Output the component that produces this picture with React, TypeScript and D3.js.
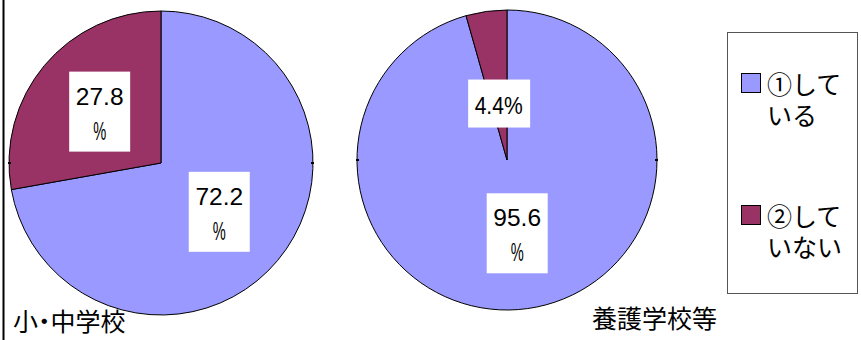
import React from 'react';
import * as d3 from 'd3';

const categories = ['①している', '②していない'];
const legendLines = [['①して', 'いる'], ['②して', 'いない']];
const pieTitles = ['小・中学校', '養護学校等'];
const elementaryValues = [72.2, 27.8];
const specialValues = [95.6, 4.4];
const seriesValues = [elementaryValues, specialValues];
const colors = ['#9999FF', '#993366'];

const W = 861;
const H = 340;

const pies = [
  { cx: 161, cy: 163, r: 152, labelR: [76, 80], split: [true, true], title: { x: 13, y: 331 } },
  { cx: 507, cy: 160, r: 150, labelR: [74, 57], split: [true, false], title: { x: 592, y: 328 } },
];

const color = d3.scaleOrdinal<string, string>().domain(categories).range(colors);

export default function App() {
  const pieGen = d3
    .pie<number>()
    .sort(null)
    .value((d) => d)
    .startAngle(0)
    .endAngle(2 * Math.PI);

  return (
    <svg
      width={W}
      height={H}
      style={{ position: 'absolute', left: 0, top: 0, background: '#fff' }}
    >
      <rect x={0} y={0} width={W} height={H} fill="#fff" />
      <line x1={3.5} x2={3.5} y1={0} y2={H} stroke="#000" strokeWidth={2} />
      {pies.map((p, pi) => {
        const slices = pieGen(seriesValues[pi]);
        const arc = d3.arc<d3.PieArcDatum<number>>().innerRadius(0).outerRadius(p.r);
        return (
          <g key={pi} transform={`translate(${p.cx},${p.cy})`}>
            {slices.map((s, i) => (
              <path
                key={i}
                d={arc(s) || ''}
                fill={color(categories[i])}
                stroke="#000"
                strokeWidth={1}
              />
            ))}
            <line x1={-p.r - 1} x2={-p.r + 2} y1={0} y2={0} stroke="#000" strokeWidth={2} />
            <line x1={p.r - 2} x2={p.r + 1} y1={0} y2={0} stroke="#000" strokeWidth={2} />
            {slices.map((s, i) => {
              const lr = p.labelR[i];
              const la = d3.arc<d3.PieArcDatum<number>>().innerRadius(lr).outerRadius(lr);
              const [x, y] = la.centroid(s);
              const v = seriesValues[pi][i].toFixed(1);
              if (p.split[i]) {
                const bw = 61;
                const bh = 80;
                return (
                  <g key={'l' + i}>
                    <rect x={x - bw / 2} y={y - bh / 2} width={bw} height={bh} fill="#fff" />
                    <text
                      x={x}
                      y={y - 7}
                      textAnchor="middle"
                      fontFamily="'Liberation Sans', Arial, sans-serif"
                      fontSize={24.5}
                      fill="#000"
                    >
                      {v}
                    </text>
                    <text
                      x={x - 6.5}
                      y={y + 28}
                      fontFamily="'Liberation Sans', Arial, sans-serif"
                      fontSize={26}
                      textLength={13}
                      lengthAdjust="spacingAndGlyphs"
                      fill="#000"
                    >
                      %
                    </text>
                  </g>
                );
              }
              const bw = 62;
              const bh = 48;
              return (
                <g key={'l' + i}>
                  <rect x={x - bw / 2} y={y - bh / 2} width={bw} height={bh} fill="#fff" />
                  <text
                    x={x - 24.5}
                    y={y + 10}
                    fontFamily="'Liberation Sans', Arial, sans-serif"
                    fontSize={24.5}
                    textLength={48}
                    lengthAdjust="spacingAndGlyphs"
                    fill="#000"
                  >
                    {v + '%'}
                  </text>
                </g>
              );
            })}
          </g>
        );
      })}
      {pies.map((p, pi) => (
        <text
          key={'t' + pi}
          x={p.title.x}
          y={p.title.y}
          fontFamily="'Noto Sans CJK JP', sans-serif"
          fontSize={25}
          style={{ fontFeatureSettings: '"palt"' }}
          fill="#000"
        >
          {pieTitles[pi]}
        </text>
      ))}
      <rect x={727.5} y={32.5} width={130} height={261} fill="#fff" stroke="#555" strokeWidth={1} />
      {categories.map((c, i) => {
        const top = i === 0 ? 73 : 205;
        return (
          <g key={c}>
            <rect x={741.5} y={top + 0.5} width={19} height={19} fill={color(c)} stroke="#000" strokeWidth={1} />
            <text
              x={767}
              y={top + 21}
              fontFamily="'Noto Sans CJK JP', sans-serif"
              fontSize={25}
              fill="#000"
            >
              {legendLines[i].map((ln, j) => (
                <tspan key={j} x={767} dy={j === 0 ? 0 : 31}>
                  {ln}
                </tspan>
              ))}
            </text>
          </g>
        );
      })}
    </svg>
  );
}
